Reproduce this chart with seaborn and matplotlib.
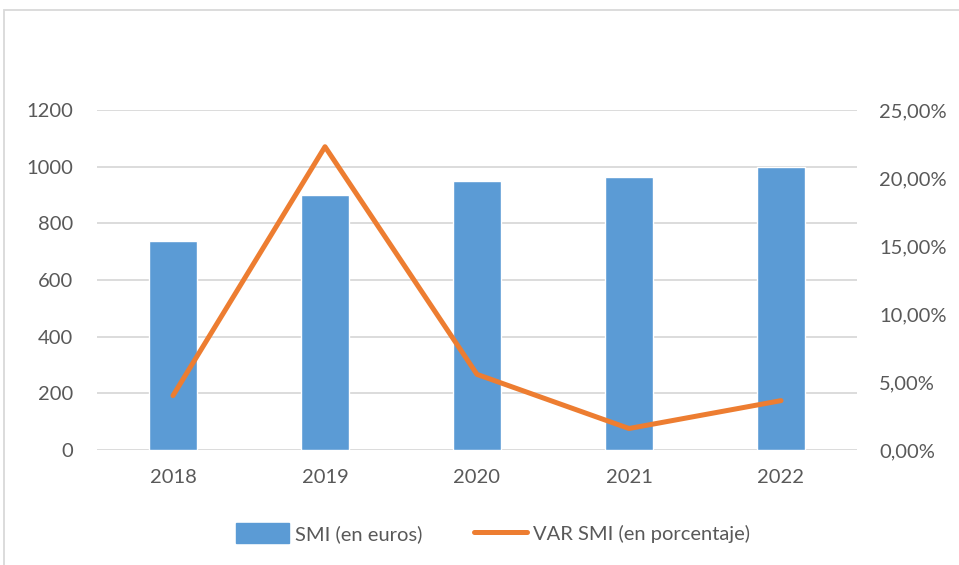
import numpy as np
import pandas as pd
import matplotlib
matplotlib.use("Agg")
import matplotlib.pyplot as plt
import seaborn as sns
from matplotlib.patches import Rectangle
from matplotlib.lines import Line2D
from matplotlib.ticker import FuncFormatter

years = ["2018", "2019", "2020", "2021", "2022"]
smi = [735.9, 900, 950, 965, 1000]
var_smi = [0.040, 0.2230, 0.0556, 0.0158, 0.0363]

bar_color = "#5b9bd5"
line_color = "#ed7d31"
text_color = "#595959"
grid_color = "#d9d9d9"

sns.set_style("white")
plt.rcParams["font.family"] = ["Lato", "DejaVu Sans"]

df = pd.DataFrame({"year": years, "smi": smi, "var": var_smi})

fig = plt.figure(figsize=(9.59, 5.65), dpi=100)
ax = fig.add_axes([97 / 959, 1 - 450 / 565, 760 / 959, 340 / 565])

sns.barplot(data=df, x="year", y="smi", color=bar_color, width=0.31,
            saturation=1, ax=ax, zorder=2)
ax.set_ylim(0, 1200)
ax.set_yticks(range(0, 1201, 200))
ax.set_xlim(-0.5, len(years) - 0.5)
ax.set_xlabel("")
ax.set_ylabel("")
ax.yaxis.grid(True, color=grid_color, linewidth=1.3, zorder=0)
ax.set_axisbelow(True)
for s in ax.spines.values():
    s.set_visible(False)
ax.tick_params(axis="y", length=0, pad=17, labelsize=14.5, labelcolor=text_color)
ax.tick_params(axis="x", length=0, pad=14, labelsize=14.5, labelcolor=text_color)

ax2 = ax.twinx()
sns.lineplot(x=np.arange(len(years)), y=var_smi, color=line_color,
             linewidth=3.6, ax=ax2, solid_capstyle="round")
ax2.set_ylim(0, 0.25)
ax2.set_yticks(np.arange(0, 0.2501, 0.05))
ax2.yaxis.set_major_formatter(FuncFormatter(lambda v, p: f"{v * 100:.2f}%".replace(".", ",")))
ax2.tick_params(axis="y", length=0, pad=16, labelsize=14.5, labelcolor=text_color)
for s in ax2.spines.values():
    s.set_visible(False)
ax2.set_ylabel("")

# outer chart border
fig.patches.append(Rectangle((4 / 959, -0.1), 1.2, 1 - 10 / 565 + 0.1,
                             transform=fig.transFigure, fill=False,
                             edgecolor=grid_color, linewidth=1.3))

handles = [Rectangle((0, 0), 1, 1, color=bar_color),
           Line2D([0], [0], color=line_color, linewidth=3.6)]
fig.legend(handles, ["SMI (en euros)", "VAR SMI (en porcentaje)"],
           loc="center", bbox_to_anchor=(0.514, 1 - 533 / 565), ncol=2,
           frameon=False, fontsize=14.5, labelcolor=text_color,
           handlelength=2.6, handleheight=1.1, handletextpad=0.3,
           columnspacing=2.6)

fig.savefig("out.png", dpi=100)
